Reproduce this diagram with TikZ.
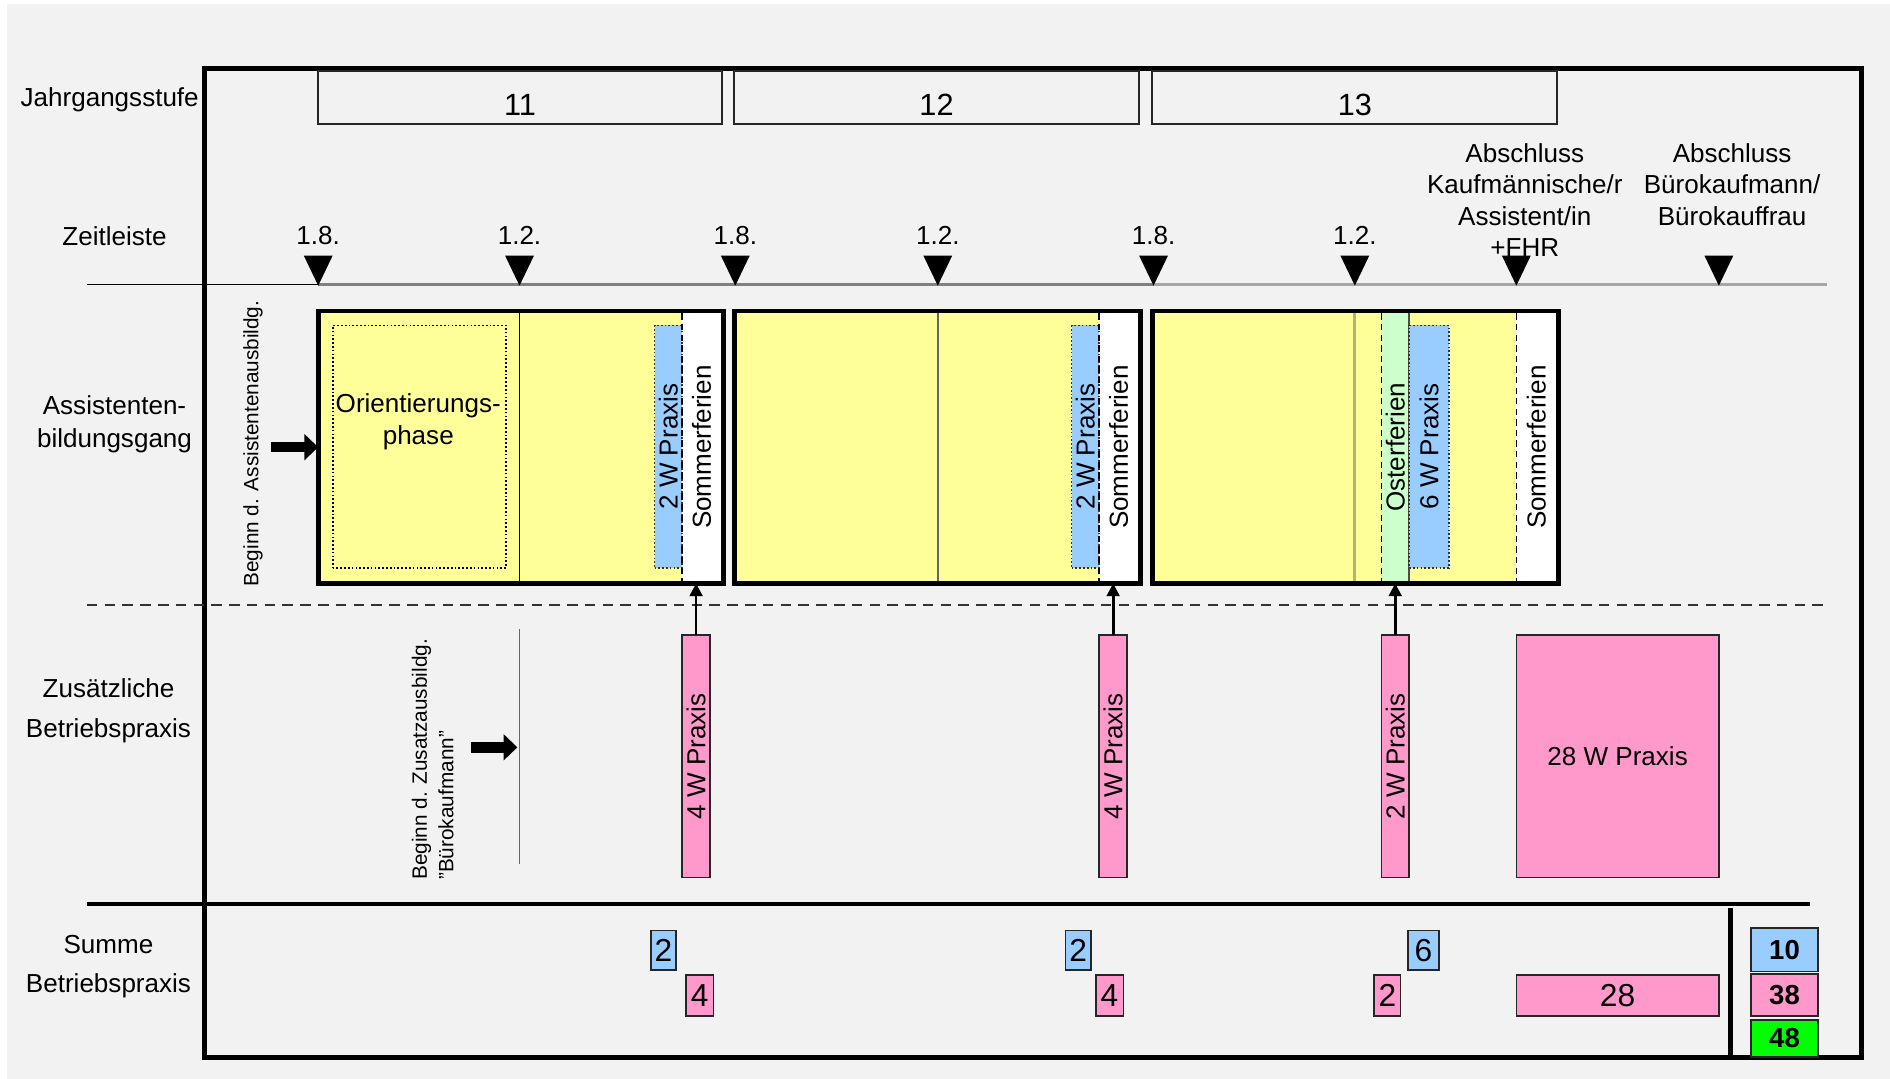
\documentclass[tikz,border=0pt]{standalone}
\usepackage{fontspec}
\setmainfont{Liberation Sans}
\usetikzlibrary{arrows.meta}

\definecolor{bggray}{HTML}{F2F2F2}
\definecolor{phaseyellow}{HTML}{FFFF99}
\definecolor{praxblue}{HTML}{99CCFF}
\definecolor{praxpink}{HTML}{FF99CC}
\definecolor{ostergreen}{HTML}{CCFFCC}
\definecolor{sumgreen}{HTML}{00FF00}
\definecolor{lineolive}{HTML}{B4B478}

% box from corner (x1,y1) to (x2,y2), picture units
\newcommand{\areanode}[6]{\node[#2, minimum width={(#5-#3)*0.02cm}, minimum height={(#6-#4)*0.02cm}] (#1) at ({(#3+#5)/2},{(#4+#6)/2})}

\tikzset{
  area/.style={rectangle, inner sep=0pt, outer sep=0pt},
  yearbox/.style={area, draw=black!85, line width=0.8pt},
  schoolyear/.style={area, draw, line width=2.3pt, fill=phaseyellow},
  ferien/.style={area, fill=white},
  praxis/.style={area, draw=black!80, dash pattern=on 0.8pt off 1pt, line width=0.8pt, fill=praxblue},
  betrieb/.style={area, draw=black!85, line width=0.8pt, fill=praxpink},
  sumbox/.style={area, draw=black!85, line width=0.8pt, font=\fontsize{15}{15}\selectfont},
  totalbox/.style={area, draw=black!85, line width=0.9pt, font=\bfseries\fontsize{13}{13}\selectfont},
  rowlabel/.style={align=center},
  ferienline/.style={dash pattern=on 3pt off 2pt, line width=0.8pt},
  bigarrow/.style={line width=5pt, -{Triangle[length=6.5pt, width=12pt]}},
  uparrow/.style={line width=1.3pt, -{Triangle[length=6pt, width=6pt]}},
}

\begin{document}
\begin{tikzpicture}[x=0.02cm, y=-0.02cm, font=\fontsize{12.3}{14.8}\selectfont]
% background
\fill[white] (0,0) rectangle (1568,895);
\fill[bggray] (6,3) rectangle (1568,895);
\useasboundingbox (0,0) rectangle (1568,895);
\draw[line width=2.3pt] (170,57) rectangle (1544,877);

% Jahrgangsstufe
\node[rowlabel] (lJahr) at (91,83) {Jahrgangsstufe};
\foreach \n/\xa/\xb in {11/264/599, 12/609/945, 13/956/1292} {
  \areanode{y\n}{yearbox}{\xa}{59}{\xb}{103} {};
  \node[font=\fontsize{14.5}{14.5}\selectfont] (t\n) at ({(\xa+\xb)/2},87) {\n};
}

% Zeitleiste
\node[rowlabel] (lZeit) at (95,196) {Zeitleiste};
\draw[line width=0.9pt] (72,236) -- (264,236);
\draw[line width=1.6pt, black!50] (264,236) -- (957,236);
\draw[line width=1.6pt, black!35] (957,236) -- (1516,236);
\foreach \x/\d in {264/1.8., 431/1.2., 610/1.8., 778/1.2., 957/1.8., 1124/1.2.}
  \node (d\x) at (\x,195) {\d};
\foreach \x in {264,431,610,778,957,1124,1258,1426}
  \fill (\x-12,212) -- (\x+12,212) -- (\x,237) -- cycle;
\node[align=center] (abAss) at (1265,166) {Abschluss\\Kaufmännische/r\\Assistent/in\\+FHR};
\node[align=center] (abBuero) at (1437,153) {Abschluss\\Bürokaufmann/\\Bürokauffrau};

% Assistentenbildungsgang
\node[rowlabel, font=\fontsize{12.3}{16}\selectfont] (lAss) at (95,352) {Assistenten-\\bildungsgang};
\node[rotate=90, font=\fontsize{9.8}{12}\selectfont] (beginAss) at (210,368) {Beginn d. Assistentenausbildg.};
\coordinate (startAss) at (225,371);

% 11
\areanode{yearA}{schoolyear}{264}{258}{600}{484} {};
\draw[line width=0.8pt] (431,260) -- (431,482);
\areanode{orient}{area, draw, dash pattern=on 0.8pt off 1pt, line width=0.8pt}{276}{270}{420}{471} {};
\node[align=center] (orientT) at (347,350) {Orientierungs-\\phase};
\areanode{sfA}{ferien}{566}{260}{598}{482} {\rotatebox{90}{Sommerferien}};
\areanode{prA}{praxis}{543}{270}{566}{471} {\rotatebox{90}{2 W Praxis}};
\draw[ferienline] (566,260) -- (566,482);

% 12
\areanode{yearB}{schoolyear}{609}{258}{946}{484} {};
\draw[line width=0.8pt, black!60] (778,260) -- (778,482);
\areanode{sfB}{ferien}{912}{260}{944}{482} {\rotatebox{90}{Sommerferien}};
\areanode{prB}{praxis}{889}{270}{912}{471} {\rotatebox{90}{2 W Praxis}};
\draw[ferienline] (912,260) -- (912,482);

% 13
\areanode{yearC}{schoolyear}{956}{258}{1293}{484} {};
\draw[line width=1.5pt, lineolive] (1124,260) -- (1124,482);
\areanode{osterC}{area, fill=ostergreen}{1146}{260}{1169}{482} {\rotatebox{90}{Osterferien}};
\draw[ferienline] (1146,260) -- (1146,482);
\draw[line width=0.8pt, black!70] (1169,260) -- (1169,482);
\areanode{prC}{praxis}{1169}{270}{1202}{471} {\rotatebox{90}{6 W Praxis}};
\areanode{sfC}{ferien}{1258}{260}{1291}{482} {\rotatebox{90}{Sommerferien}};
\draw[ferienline] (1258,260) -- (1258,482);

\draw[bigarrow] (startAss) -- (yearA.west |- startAss);
\draw[dash pattern=on 5pt off 3.4pt, line width=0.9pt, black!80] (72,502) -- (1512,502);

% Zusaetzliche Betriebspraxis
\node[rowlabel, font=\fontsize{12.3}{18.8}\selectfont] (lZus) at (90,590) {Zusätzliche\\Betriebspraxis};
\node[rotate=90, align=left, font=\fontsize{9.8}{12.5}\selectfont] (beginZus) at (359,630) {Beginn d. Zusatzausbildg.\\"Bürokaufmann"};
\draw[line width=0.6pt, black!60] (431,522) coordinate (zusTop) -- (431,717);
\coordinate (startZus) at (391,620);
\draw[bigarrow, shorten >=1pt] (startZus) -- (startZus -| zusTop);
\areanode{bpA}{betrieb}{566}{527}{589}{728} {\rotatebox{90}{4 W Praxis}};
\areanode{bpB}{betrieb}{912}{527}{935}{728} {\rotatebox{90}{4 W Praxis}};
\areanode{bpC}{betrieb}{1146}{527}{1169}{728} {\rotatebox{90}{2 W Praxis}};
\areanode{bpD}{betrieb}{1258}{527}{1426}{728} {28 W Praxis};
\foreach \p/\y in {bpA/yearA, bpB/yearB, bpC/yearC}
  \draw[uparrow] (\p.north) -- (\p.north |- \y.south);

\draw[line width=1.5pt] (72,750) -- (1502,750);
\draw[line width=2.3pt] (1436,753) -- (1436,877);

% Summe Betriebspraxis
\node[rowlabel, font=\fontsize{12.3}{18.2}\selectfont] (lSum) at (90,802) {Summe\\Betriebspraxis};
\areanode{sA1}{sumbox, fill=praxblue}{540}{772}{561}{805} {2};
\areanode{sA2}{sumbox, fill=praxpink}{569}{809}{592}{843} {4};
\areanode{sB1}{sumbox, fill=praxblue}{884}{772}{905}{805} {2};
\areanode{sB2}{sumbox, fill=praxpink}{909}{809}{932}{843} {4};
\areanode{sC1}{sumbox, fill=praxblue}{1168}{772}{1194}{805} {6};
\areanode{sC2}{sumbox, fill=praxpink}{1140}{809}{1162}{843} {2};
\areanode{sD}{sumbox, fill=praxpink}{1258}{809}{1426}{843} {28};
\areanode{totBlue}{totalbox, fill=praxblue}{1453}{770}{1508}{806} {10};
\areanode{totPink}{totalbox, fill=praxpink}{1453}{808}{1508}{843} {38};
\areanode{totAll}{totalbox, fill=sumgreen}{1453}{846}{1508}{877} {48};
\end{tikzpicture}
\end{document}
